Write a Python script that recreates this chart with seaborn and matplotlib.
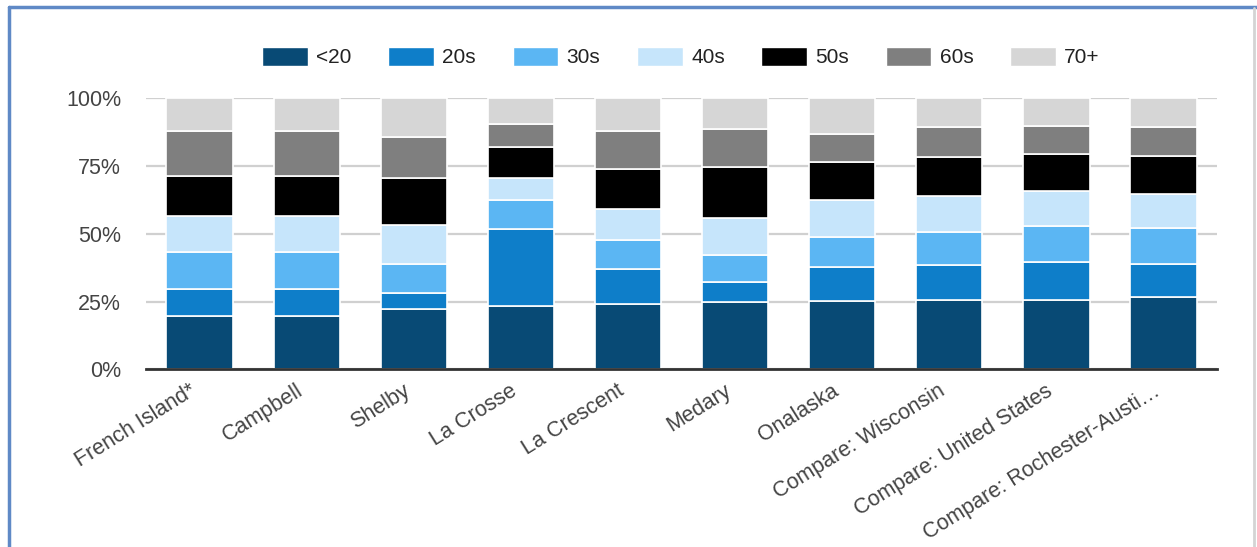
import matplotlib
matplotlib.use("Agg")
import matplotlib.pyplot as plt
from matplotlib.patches import Patch
from matplotlib.lines import Line2D
import seaborn as sns

# Age-group shares (percent)
places = ["French Island*", "Campbell", "Shelby", "La Crosse", "La Crescent",
          "Medary", "Onalaska", "Compare: Wisconsin", "Compare: United States",
          "Compare: Rochester-Austi\u2026"]
age_groups = ["<20", "20s", "30s", "40s", "50s", "60s", "70+"]

under20 = [19.7, 19.7, 22.3, 23.5, 24.1, 24.7, 25.3, 25.5, 25.5, 26.8]
twenties = [9.9, 9.9, 6.0, 28.2, 12.9, 7.6, 12.3, 12.9, 14.1, 12.1]
thirties = [13.6, 13.6, 10.6, 10.8, 10.6, 9.9, 11.3, 12.4, 13.4, 13.4]
forties = [13.5, 13.5, 14.3, 8.2, 11.6, 13.5, 13.6, 13.1, 12.8, 12.3]
fifties = [14.7, 14.7, 17.3, 11.2, 14.7, 18.8, 14.1, 14.6, 13.5, 14.1]
sixties = [16.6, 16.6, 15.3, 8.7, 14.0, 14.1, 10.1, 10.8, 10.6, 10.6]
seventy_plus = [12.0, 12.0, 14.2, 9.4, 12.1, 11.4, 13.3, 10.7, 10.1, 10.7]

colors = ["#084a75", "#0e7ec9", "#5bb6f3", "#c6e5fb", "#000000", "#7f7f7f", "#d6d6d6"]

sns.set_theme(style="white")
plt.rcParams["font.family"] = ["Liberation Sans", "DejaVu Sans"]

fig = plt.figure(figsize=(12.57, 5.47), dpi=100)
ax = fig.add_axes([0.1162, 0.3249, 0.852, 0.4954])

series = [under20, twenties, thirties, forties, fifties, sixties, seventy_plus]
bottom = [0.0] * len(places)
for vals, col in zip(series, colors):
    frac = [v / 100 for v in vals]
    sns.barplot(x=places, y=frac, bottom=bottom, color=col, width=0.62,
                edgecolor="white", linewidth=1.2, saturation=1, errorbar=None,
                ax=ax, zorder=3)
    bottom = [b + f for b, f in zip(bottom, frac)]

ax.set_ylim(0, 1)
ax.set_xlim(-0.5, len(places) - 0.5)
ax.set_yticks([0, 0.25, 0.5, 0.75, 1.0])
ax.set_yticklabels(["0%", "25%", "50%", "75%", "100%"])
ax.yaxis.grid(True, color="#d0d0d0", linewidth=1.6, zorder=0)
ax.set_axisbelow(True)
for s in ["top", "right", "left"]:
    ax.spines[s].set_visible(False)
ax.spines["bottom"].set_color("#333333")
ax.spines["bottom"].set_linewidth(2)
ax.spines["bottom"].set_zorder(4)
ax.tick_params(axis="y", length=0, pad=18, labelsize=15.5, labelcolor="#444444")
ax.tick_params(axis="x", length=0, pad=8, labelsize=15.5, labelcolor="#444444")
ax.set_xlabel("")
ax.set_ylabel("")
for lab in ax.get_xticklabels():
    lab.set_rotation(32)
    lab.set_ha("right")
    lab.set_va("top")

handles = [Patch(facecolor=c, edgecolor="white") for c in colors]
fig.legend(handles, age_groups, loc="center", bbox_to_anchor=(681 / 1257, 1 - 57 / 547),
           ncol=7, frameon=False, fontsize=15, handlelength=2.2, handleheight=1.05,
           handletextpad=0.4, columnspacing=1.75, labelcolor="#222222")

# screenshot frame
fig.add_artist(Line2D([9 / 1257, 9 / 1257], [0, 1 - 7 / 547], transform=fig.transFigure,
                      color="#5f89c6", linewidth=2.5))
fig.add_artist(Line2D([9 / 1257, 1], [1 - 7 / 547, 1 - 7 / 547], transform=fig.transFigure,
                      color="#5f89c6", linewidth=2.5))
fig.add_artist(Line2D([1254 / 1257, 1254 / 1257], [0, 1 - 8 / 547], transform=fig.transFigure,
                      color="#d4d4d4", linewidth=2))

fig.savefig("out.png", dpi=100)
